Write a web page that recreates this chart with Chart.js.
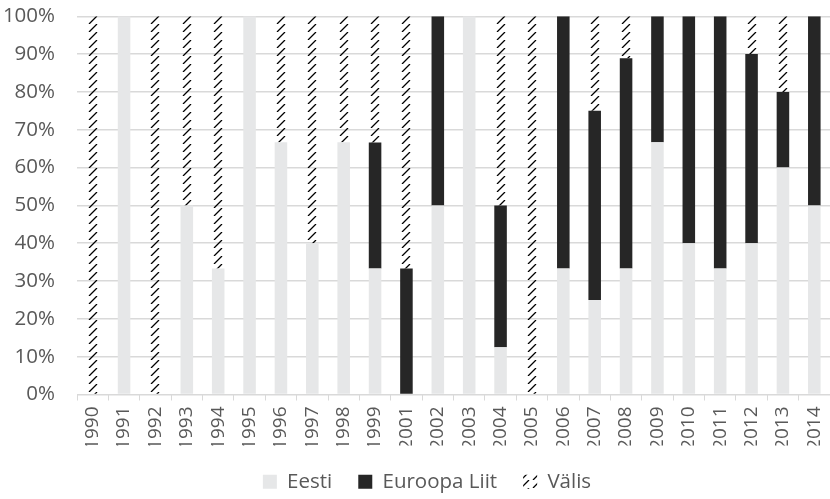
<!DOCTYPE html>
<html>
<head>
<meta charset="utf-8">
<script src="https://cdn.jsdelivr.net/npm/chart.js@4/dist/chart.umd.min.js"></script>
<style>
  html, body { margin: 0; padding: 0; background: #fff; }
  #wrap { width: 830px; height: 499px; }
</style>
</head>
<body>
<div id="wrap"><canvas id="chart" width="830" height="499"></canvas></div>
<script>
// andmed
var years = ['1990','1991','1992','1993','1994','1995','1996','1997','1998','1999',
             '2001','2002','2003','2004','2005','2006','2007','2008','2009','2010',
             '2011','2012','2013','2014'];
var eesti  = [0, 100, 0, 50, 33.3, 100, 66.7, 40, 66.7, 33.3,
              0, 50, 100, 12.5, 0, 33.3, 25, 33.3, 66.7, 40,
              33.3, 40, 60, 50];
var euroopa = [0, 0, 0, 0, 0, 0, 0, 0, 0, 33.3,
               33.3, 50, 0, 37.5, 0, 66.7, 50, 55.6, 33.3, 60,
               66.7, 50, 20, 50];
var valis  = [100, 0, 100, 50, 66.7, 0, 33.3, 60, 33.3, 33.4,
              66.7, 0, 0, 50, 100, 0, 25, 11.1, 0, 0,
              0, 10, 20, 0];
var yTicks = [0, 10, 20, 30, 40, 50, 60, 70, 80, 90, 100];

var textColor = '#595959';
var fontFam = "'Open Sans', 'Noto Sans', sans-serif";

// diagonal hatch, one stroke per row
function makeHatch() {
  var c = document.createElement('canvas');
  c.width = 12; c.height = 8;
  var g = c.getContext('2d');
  g.strokeStyle = '#000';
  g.lineWidth = 1.3;
  g.beginPath();
  g.moveTo(2, 8);
  g.lineTo(10, 0);
  g.stroke();
  return g.createPattern(c, 'repeat');
}
var hatch = makeHatch();

// pattern shifted so that every bar starts at the same phase
function hatchFor(c) {
  var xs = c.chart.scales && c.chart.scales.x;
  if (c.type !== 'data' || !xs) return hatch;
  var p = makeHatch();
  var left = Math.round(xs.getPixelForValue(c.dataIndex) - 6);
  p.setTransform(new DOMMatrix([1, 0, 0, 1, left, 0]));
  return p;
}

// legend sits a bit right of centre in the original
var legendShift = {
  id: 'legendShift',
  beforeDraw: function(chart) {
    if (chart.legend) {
      chart.legend.left += 12;
      chart.legend.right += 12;
    }
  }
};

var ctx = document.getElementById('chart').getContext('2d');
var chart = new Chart(ctx, {
  type: 'bar',
  data: {
    labels: years,
    datasets: [
      { label: 'Eesti', data: eesti, backgroundColor: '#e6e7e8', borderWidth: 0 },
      { label: 'Euroopa Liit', data: euroopa, backgroundColor: '#262626', borderWidth: 0 },
      { label: 'Välis', data: valis, backgroundColor: hatchFor, borderWidth: 0 }
    ]
  },
  options: {
    responsive: false,
    animation: false,
    layout: { padding: { left: 0, right: 0, top: 0, bottom: -3 } },
    datasets: { bar: { categoryPercentage: 1, barPercentage: 0.4 } },
    plugins: {
      legend: {
        position: 'bottom',
        labels: {
          color: textColor,
          font: { family: fontFam, size: 20.5 },
          boxWidth: 14,
          boxHeight: 14,
          padding: 26
        }
      },
      tooltip: { enabled: false }
    },
    scales: {
      x: {
        stacked: true,
        grid: {
          offset: true,
          drawOnChartArea: false,
          drawTicks: true,
          tickLength: 6,
          color: '#d9d9d9'
        },
        border: { color: '#d9d9d9' },
        ticks: {
          color: textColor,
          font: { family: fontFam, size: 19 },
          maxRotation: 90,
          minRotation: 90,
          padding: 6,
          autoSkip: false
        },
        afterFit: function(scale) {
          scale.height = 51;
          scale.paddingLeft = 0;
          scale.paddingRight = 0;
        }
      },
      y: {
        stacked: true,
        min: 0,
        max: 100,
        afterBuildTicks: function(scale) {
          scale.ticks = yTicks.map(function(v) { return { value: v }; });
        },
        grid: { color: '#d9d9d9', drawTicks: true, tickLength: 18, tickColor: 'rgba(0,0,0,0)', lineWidth: 1.5 },
        border: { display: false },
        ticks: {
          color: textColor,
          font: { family: fontFam, size: 20.5 },
          padding: 4,
          callback: function(v) { return v + '%'; }
        },
        afterFit: function(scale) { scale.width = 77; }
      }
    }
  },
  plugins: [legendShift]
});
</script>
</body>
</html>
